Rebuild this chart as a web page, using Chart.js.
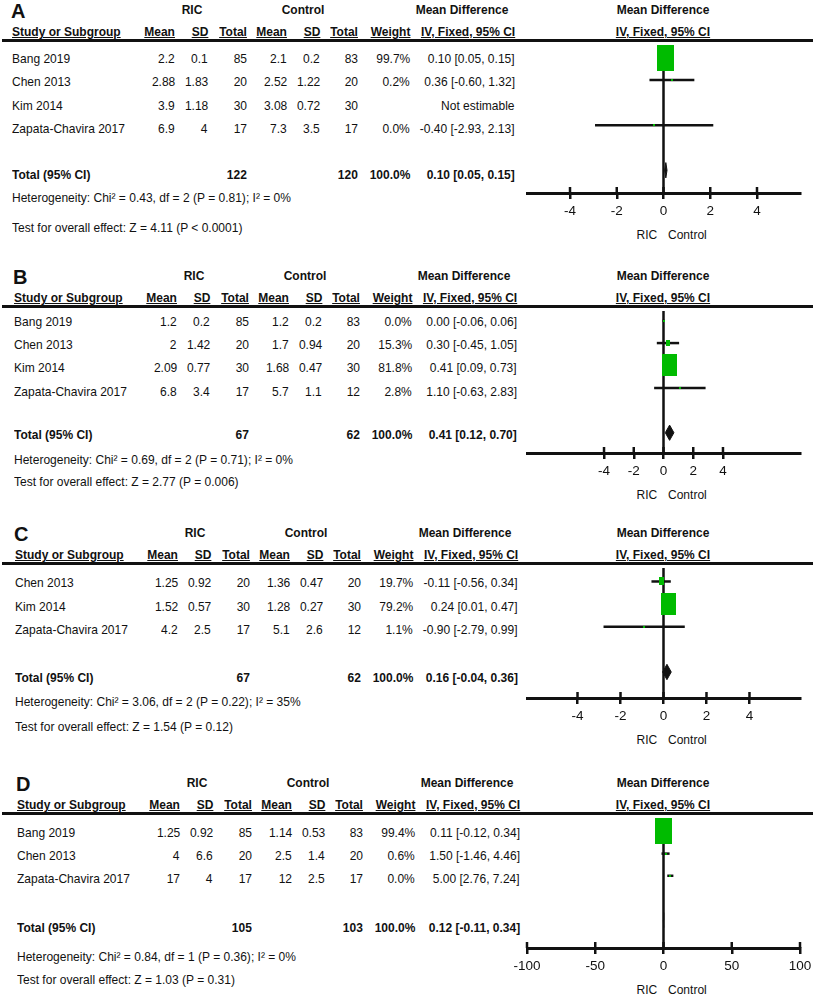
<!DOCTYPE html>
<html>
<head>
<meta charset="utf-8">
<title>Forest plots</title>
<script src="https://cdn.jsdelivr.net/npm/chart.js@4.4.1/dist/chart.umd.min.js"></script>
<style>
html, body { margin: 0; padding: 0; background: #fff; }
#page { position: relative; width: 813px; height: 997px; overflow: hidden;
        font-family: "Liberation Sans", Arial, sans-serif; color: #111; }
.t { position: absolute; white-space: nowrap; font-size: 13.5px; line-height: 16px; height: 16px;
     transform: scaleX(0.89); }
.b { font-weight: bold; font-size: 12.5px; transform: scaleX(0.96); }
.u { text-decoration: underline; }
.big { font-weight: bold; font-size: 20px; line-height: 20px; height: 20px; transform: none; }
.rule { position: absolute; left: 2px; width: 811px; height: 3px; background: #111; }
canvas { position: absolute; }
</style>
</head>
<body>
<div id="page"></div>
<script>
"use strict";

// ---- Panel A ----
const studiesA = ["Bang 2019", "Chen 2013", "Kim 2014", "Zapata-Chavira 2017"];
const ricMeanA = [2.2, 2.88, 3.9, 6.9];
const ricSdA = [0.1, 1.83, 1.18, 4];
const ricNA = [85, 20, 30, 17];
const ctlMeanA = [2.1, 2.52, 3.08, 7.3];
const ctlSdA = [0.2, 1.22, 0.72, 3.5];
const ctlNA = [83, 20, 30, 17];
const weightA = [99.7, 0.2, null, 0.0];
const mdA = [0.10, 0.36, null, -0.40];
const loA = [0.05, -0.60, null, -2.93];
const hiA = [0.15, 1.32, null, 2.13];
const totalNA = [122, 120];
const pooledA = [0.10, 0.05, 0.15];
const hetA = "Heterogeneity: Chi² = 0.43, df = 2 (P = 0.81); I² = 0%";
const testA = "Test for overall effect: Z = 4.11 (P < 0.0001)";
const ticksA = [-4, -2, 0, 2, 4];
const rangeA = [-5.84, 5.84];

// ---- Panel B ----
const studiesB = ["Bang 2019", "Chen 2013", "Kim 2014", "Zapata-Chavira 2017"];
const ricMeanB = [1.2, 2, 2.09, 6.8];
const ricSdB = [0.2, 1.42, 0.77, 3.4];
const ricNB = [85, 20, 30, 17];
const ctlMeanB = [1.2, 1.7, 1.68, 5.7];
const ctlSdB = [0.2, 0.94, 0.47, 1.1];
const ctlNB = [83, 20, 30, 12];
const weightB = [0.0, 15.3, 81.8, 2.8];
const mdB = [0.00, 0.30, 0.41, 1.10];
const loB = [-0.06, -0.45, 0.09, -0.63];
const hiB = [0.06, 1.05, 0.73, 2.83];
const totalNB = [67, 62];
const pooledB = [0.41, 0.12, 0.70];
const hetB = "Heterogeneity: Chi² = 0.69, df = 2 (P = 0.71); I² = 0%";
const testB = "Test for overall effect: Z = 2.77 (P = 0.006)";
const ticksB = [-4, -2, 0, 2, 4];
const rangeB = [-9.18, 9.18];

// ---- Panel C ----
const studiesC = ["Chen 2013", "Kim 2014", "Zapata-Chavira 2017"];
const ricMeanC = [1.25, 1.52, 4.2];
const ricSdC = [0.92, 0.57, 2.5];
const ricNC = [20, 30, 17];
const ctlMeanC = [1.36, 1.28, 5.1];
const ctlSdC = [0.47, 0.27, 2.6];
const ctlNC = [20, 30, 12];
const weightC = [19.7, 79.2, 1.1];
const mdC = [-0.11, 0.24, -0.90];
const loC = [-0.56, 0.01, -2.79];
const hiC = [0.34, 0.47, 0.99];
const totalNC = [67, 62];
const pooledC = [0.16, -0.04, 0.36];
const hetC = "Heterogeneity: Chi² = 3.06, df = 2 (P = 0.22); I² = 35%";
const testC = "Test for overall effect: Z = 1.54 (P = 0.12)";
const ticksC = [-4, -2, 0, 2, 4];
const rangeC = [-6.35, 6.35];

// ---- Panel D ----
const studiesD = ["Bang 2019", "Chen 2013", "Zapata-Chavira 2017"];
const ricMeanD = [1.25, 4, 17];
const ricSdD = [0.92, 6.6, 4];
const ricND = [85, 20, 17];
const ctlMeanD = [1.14, 2.5, 12];
const ctlSdD = [0.53, 1.4, 2.5];
const ctlND = [83, 20, 17];
const weightD = [99.4, 0.6, 0.0];
const mdD = [0.11, 1.50, 5.00];
const loD = [-0.12, -1.46, 2.76];
const hiD = [0.34, 4.46, 7.24];
const totalND = [105, 103];
const pooledD = [0.12, -0.11, 0.34];
const hetD = "Heterogeneity: Chi² = 0.84, df = 1 (P = 0.36); I² = 0%";
const testD = "Test for overall effect: Z = 1.03 (P = 0.31)";
const ticksD = [-100, -50, 0, 50, 100];
const rangeD = [-100, 100];

const GREEN = "#00bb00";
const INK = "#111";

// where each panel sits on the page (y of top rule, first row, row step, axis line...)
const panels = [
    { label: "A", studies: studiesA, ricMean: ricMeanA, ricSd: ricSdA, ricN: ricNA, ctlMean: ctlMeanA, ctlSd: ctlSdA, ctlN: ctlNA,
      weight: weightA, md: mdA, lo: loA, hi: hiA, totalN: totalNA, pooled: pooledA, het: hetA, test: testA, ticks: ticksA, range: rangeA,
      line: 40, m0: 53, step: 23.3, axis: 193, total: 175, hetY: 198, testY: 228, dx: 0 },
    { label: "B", studies: studiesB, ricMean: ricMeanB, ricSd: ricSdB, ricN: ricNB, ctlMean: ctlMeanB, ctlSd: ctlSdB, ctlN: ctlNB,
      weight: weightB, md: mdB, lo: loB, hi: hiB, totalN: totalNB, pooled: pooledB, het: hetB, test: testB, ticks: ticksB, range: rangeB,
      line: 306, m0: 316, step: 23.2, axis: 453, total: 435, hetY: 460, testY: 482, dx: 2 },
    { label: "C", studies: studiesC, ricMean: ricMeanC, ricSd: ricSdC, ricN: ricNC, ctlMean: ctlMeanC, ctlSd: ctlSdC, ctlN: ctlNC,
      weight: weightC, md: mdC, lo: loC, hi: hiC, totalN: totalNC, pooled: pooledC, het: hetC, test: testC, ticks: ticksC, range: rangeC,
      line: 563, m0: 577, step: 23.5, axis: 698, total: 678, hetY: 702, testY: 727, dx: 3 },
    { label: "D", studies: studiesD, ricMean: ricMeanD, ricSd: ricSdD, ricN: ricND, ctlMean: ctlMeanD, ctlSd: ctlSdD, ctlN: ctlND,
      weight: weightD, md: mdD, lo: loD, hi: hiD, totalN: totalND, pooled: pooledD, het: hetD, test: testD, ticks: ticksD, range: rangeD,
      line: 813, m0: 827, step: 23.0, axis: 948, total: 928, hetY: 957, testY: 980, dx: 5 }
];

const page = document.getElementById('page');

function addText(str, x, y, align, cls) {
    let d = document.createElement('div');
    d.className = 't ' + (cls || '');
    d.textContent = str;
    d.style.top = (y - 8) + 'px';
    if (align === 'right') {
        d.style.right = (813 - x) + 'px';
        d.style.transformOrigin = 'right center';
    } else if (align === 'center') {
        d.style.left = (x - 150) + 'px';
        d.style.width = '300px';
        d.style.textAlign = 'center';
        d.style.transformOrigin = 'center center';
    } else {
        d.style.left = x + 'px';
        d.style.transformOrigin = 'left center';
    }
    page.appendChild(d);
}

function ciText(md, lo, hi) {
    if (md === null) return "Not estimable";
    return md.toFixed(2) + " [" + lo.toFixed(2) + ", " + hi.toFixed(2) + "]";
}

// green box, area grows with the study weight
function makeBox(w) {
    let f = Math.pow(w / 100, 0.75);
    let c = document.createElement('canvas');
    c.width = Math.max(2, Math.round(17.5 * f));
    c.height = Math.max(2, Math.round(26 * f));
    let g = c.getContext('2d');
    g.fillStyle = GREEN;
    g.fillRect(0, 0, c.width, c.height);
    return c;
}

// tick marks also stick up above the axis line
const tickUp = {
    id: 'tickUp',
    afterDraw(chart) {
        let s = chart.scales.x;
        let ctx = chart.ctx;
        ctx.save();
        ctx.strokeStyle = INK;
        ctx.lineWidth = 2.5;
        s.ticks.forEach(t => {
            let px = s.getPixelForValue(t.value);
            ctx.beginPath();
            ctx.moveTo(px, s.top - 6);
            ctx.lineTo(px, s.top);
            ctx.stroke();
        });
        ctx.restore();
    }
};

function drawPanel(p) {
    const dx = p.dx;
    const cols = [175, 208, 247, 287, 320, 358, 410, 515].map(v => v + dx);

    // headers
    let big = document.createElement('div');
    big.className = 't big';
    big.textContent = p.label;
    big.style.left = (11 + dx) + 'px';
    big.style.top = (p.line - 39) + 'px';
    page.appendChild(big);

    addText("RIC", 192 + dx, p.line - 30, 'center', 'b');
    addText("Control", 303 + dx, p.line - 30, 'center', 'b');
    addText("Mean Difference", 462 + dx, p.line - 30, 'center', 'b');
    addText("Mean Difference", 663, p.line - 30, 'center', 'b');

    let hy = p.line - 8;
    addText("Study or Subgroup", 12 + dx, hy, 'left', 'b u');
    ["Mean", "SD", "Total", "Mean", "SD", "Total", "Weight", "IV, Fixed, 95% CI"].forEach((h, k) => {
        addText(h, cols[k], hy, 'right', 'b u');
    });
    addText("IV, Fixed, 95% CI", 663, hy, 'center', 'b u');

    let rule = document.createElement('div');
    rule.className = 'rule';
    rule.style.top = (p.line - 1.5) + 'px';
    page.appendChild(rule);

    // study rows
    p.studies.forEach((s, i) => {
        let y = p.m0 + i * p.step + 6;
        addText(s, 12 + dx, y, 'left');
        let cells = [p.ricMean[i], p.ricSd[i], p.ricN[i], p.ctlMean[i], p.ctlSd[i], p.ctlN[i]];
        cells.forEach((v, k) => addText(String(v), cols[k], y, 'right'));
        if (p.weight[i] !== null) addText(p.weight[i].toFixed(1) + "%", cols[6], y, 'right');
        addText(ciText(p.md[i], p.lo[i], p.hi[i]), cols[7], y, 'right');
    });

    // total row
    addText("Total (95% CI)", 12 + dx, p.total, 'left', 'b');
    addText(String(p.totalN[0]), cols[2], p.total, 'right', 'b');
    addText(String(p.totalN[1]), cols[5], p.total, 'right', 'b');
    addText("100.0%", cols[6], p.total, 'right', 'b');
    addText(ciText(p.pooled[0], p.pooled[1], p.pooled[2]), cols[7], p.total, 'right', 'b');
    addText(p.het, 12 + dx, p.hetY, 'left');
    addText(p.test, 12 + dx, p.testY, 'left');

    addText("RIC", 657, p.axis + 42, 'right');
    addText("Control", 668, p.axis + 42, 'left');

    // plot
    const scaleH = 32;
    const cv = document.createElement('canvas');
    const H = p.axis - p.line + scaleH;
    cv.width = 313;
    cv.height = H;
    cv.style.left = '500px';
    cv.style.top = p.line + 'px';
    cv.style.width = '313px';
    cv.style.height = H + 'px';
    page.appendChild(cv);

    const yMin = (p.line - p.m0) / p.step;
    const yMax = (p.axis - p.m0) / p.step;
    const totalRow = p.studies.length + 1;

    let datasets = [];
    // zero line
    datasets.push({ data: [{ x: 0, y: yMin }, { x: 0, y: yMax }], showLine: true, borderColor: INK, borderWidth: 2.5, pointRadius: 0, order: 3 });
    // confidence intervals
    p.studies.forEach((s, i) => {
        if (p.md[i] === null) return;
        datasets.push({ data: [{ x: p.lo[i], y: i }, { x: p.hi[i], y: i }], showLine: true, borderColor: INK, borderWidth: 2.5, pointRadius: 0, order: 2 });
    });
    // boxes
    let boxData = [], boxStyle = [];
    p.studies.forEach((s, i) => {
        if (p.md[i] === null) return;
        boxData.push({ x: p.md[i], y: i });
        boxStyle.push(makeBox(p.weight[i]));
    });
    datasets.push({ data: boxData, pointStyle: boxStyle, pointRadius: 1, showLine: false, order: 0 });
    // pooled diamond
    const dh = 0.34;
    datasets.push({
        data: [{ x: p.pooled[1], y: totalRow }, { x: p.pooled[0], y: totalRow - dh }, { x: p.pooled[2], y: totalRow },
               { x: p.pooled[0], y: totalRow + dh }, { x: p.pooled[1], y: totalRow }],
        showLine: true, fill: 'shape', backgroundColor: INK, borderColor: INK, borderWidth: 1, pointRadius: 0, order: 1
    });

    new Chart(cv, {
        type: 'scatter',
        data: { datasets: datasets },
        options: {
            responsive: false,
            animation: false,
            layout: { padding: { left: 27, right: 13, top: 0, bottom: 0 } },
            plugins: { legend: { display: false }, tooltip: { enabled: false } },
            scales: {
                x: {
                    type: 'linear',
                    min: p.range[0],
                    max: p.range[1],
                    afterBuildTicks: s => { s.ticks = p.ticks.map(v => ({ value: v })); },
                    afterFit: s => { s.height = scaleH; s.paddingLeft = 0; s.paddingRight = 0; },
                    grid: { drawOnChartArea: false, drawTicks: true, tickLength: 6, lineWidth: 2.5, color: INK },
                    border: { display: true, width: 3, color: INK },
                    ticks: { color: INK, font: { family: 'Liberation Sans', size: 13.5 }, padding: 4, maxRotation: 0, autoSkip: false }
                },
                y: { type: 'linear', reverse: true, min: yMin, max: yMax, display: false }
            }
        },
        plugins: [tickUp]
    });
}

panels.forEach(drawPanel);
</script>
</body>
</html>
